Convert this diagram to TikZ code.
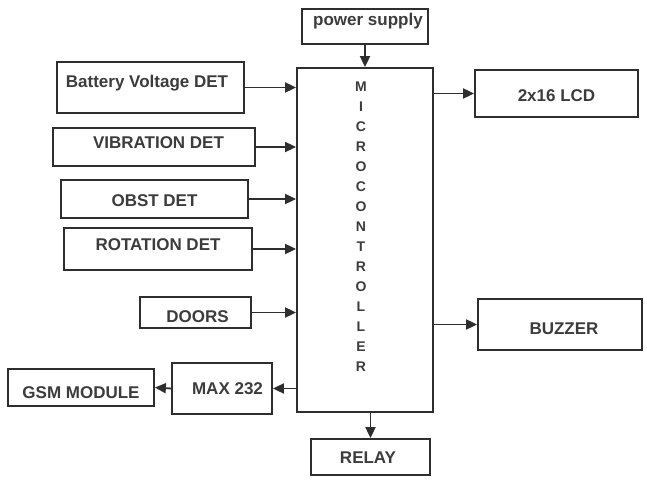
\documentclass[tikz,border=0pt]{standalone}
\usepackage{fontspec}
\setmainfont{Liberation Sans}
\usetikzlibrary{arrows.meta}
\definecolor{ink}{HTML}{2E2E2E}
\definecolor{txtc}{HTML}{3C3C3C}
\newcommand{\mvtext}[3]{\raisebox{#2}[\height][\depth]{\hspace*{#1}#3\hspace*{-#1}}}
\tikzset{
  blk/.style={draw=ink, line width=1.8pt, fill=white, inner sep=0pt,
    text=txtc, font=\fontsize{17}{20}\selectfont\bfseries},
  arr/.style={draw=ink, line width=1.8pt, -{Triangle[length=11pt,width=10pt]}},
  vtxt/.style={text=txtc, align=center, inner sep=0pt,
    font=\fontsize{14}{20}\selectfont\bfseries}
}
\begin{document}
\begin{tikzpicture}[x=1pt,y=-1pt]
\useasboundingbox[fill=white] (0,0) rectangle (647,481);
% boxes
\node[blk, minimum width=126pt, minimum height=35pt] (power) at (365,26.5) {\mvtext{3pt}{5.5pt}{power supply}};
\node[blk, minimum width=136pt, minimum height=344pt] (mcu) at (365,240) {};
\node[vtxt] (mcuT) at (361,226.5) {M\\I\\C\\R\\O\\C\\O\\N\\T\\R\\O\\L\\L\\E\\R};
\node[blk, minimum width=163pt, minimum height=47pt] (lcd) at (556.5,93.5) {\mvtext{0pt}{-2.5pt}{2x16 LCD}};
\node[blk, minimum width=164pt, minimum height=51pt] (buzzer) at (560,324.5) {\mvtext{4pt}{-4.5pt}{BUZZER}};
\node[blk, minimum width=119pt, minimum height=36pt] (relay) at (370.5,457) {\mvtext{-2.5pt}{-1pt}{RELAY}};
\node[blk, minimum width=187pt, minimum height=51pt] (bat) at (150.5,87.5) {\mvtext{-3.5pt}{4.5pt}{Battery Voltage DET}};
\node[blk, minimum width=202pt, minimum height=38pt] (vib) at (154,147) {\mvtext{4.5pt}{4pt}{VIBRATION DET}};
\node[blk, minimum width=187pt, minimum height=38pt] (obst) at (154.5,199) {\mvtext{0pt}{-2pt}{OBST DET}};
\node[blk, minimum width=188pt, minimum height=42pt] (rot) at (158,249) {\mvtext{0pt}{4pt}{ROTATION DET}};
\node[blk, minimum width=111pt, minimum height=31pt] (doors) at (195.5,312.5) {\mvtext{2pt}{-4.5pt}{DOORS}};
\node[blk, minimum width=100pt, minimum height=51pt] (max) at (222,388.5) {\mvtext{5.5pt}{0pt}{MAX 232}};
\node[blk, minimum width=146pt, minimum height=37pt] (gsm) at (81,387.5) {\mvtext{0pt}{-5.5pt}{GSM MODULE}};
% connectors
\draw[arr] (power.south) -- (power.south |- mcu.north);
\draw[arr] (bat.east) -- (mcu.west |- bat.east);
\draw[arr] (vib.east) -- (mcu.west |- vib.east);
\draw[arr] (obst.east) -- (mcu.west |- obst.east);
\draw[arr] (rot.east) -- (mcu.west |- rot.east);
\draw[arr] (doors.east) -- (mcu.west |- doors.east);
\draw[arr] (mcu.west |- max.east) -- (max.east);
\draw[arr] (max.west) -- (gsm.east);
\draw[arr] (mcu.east |- lcd.west) -- (lcd.west);
\draw[arr] (mcu.east |- buzzer.west) -- (buzzer.west);
\draw[arr] (relay.north |- mcu.south) -- (relay.north);
\end{tikzpicture}
\end{document}
